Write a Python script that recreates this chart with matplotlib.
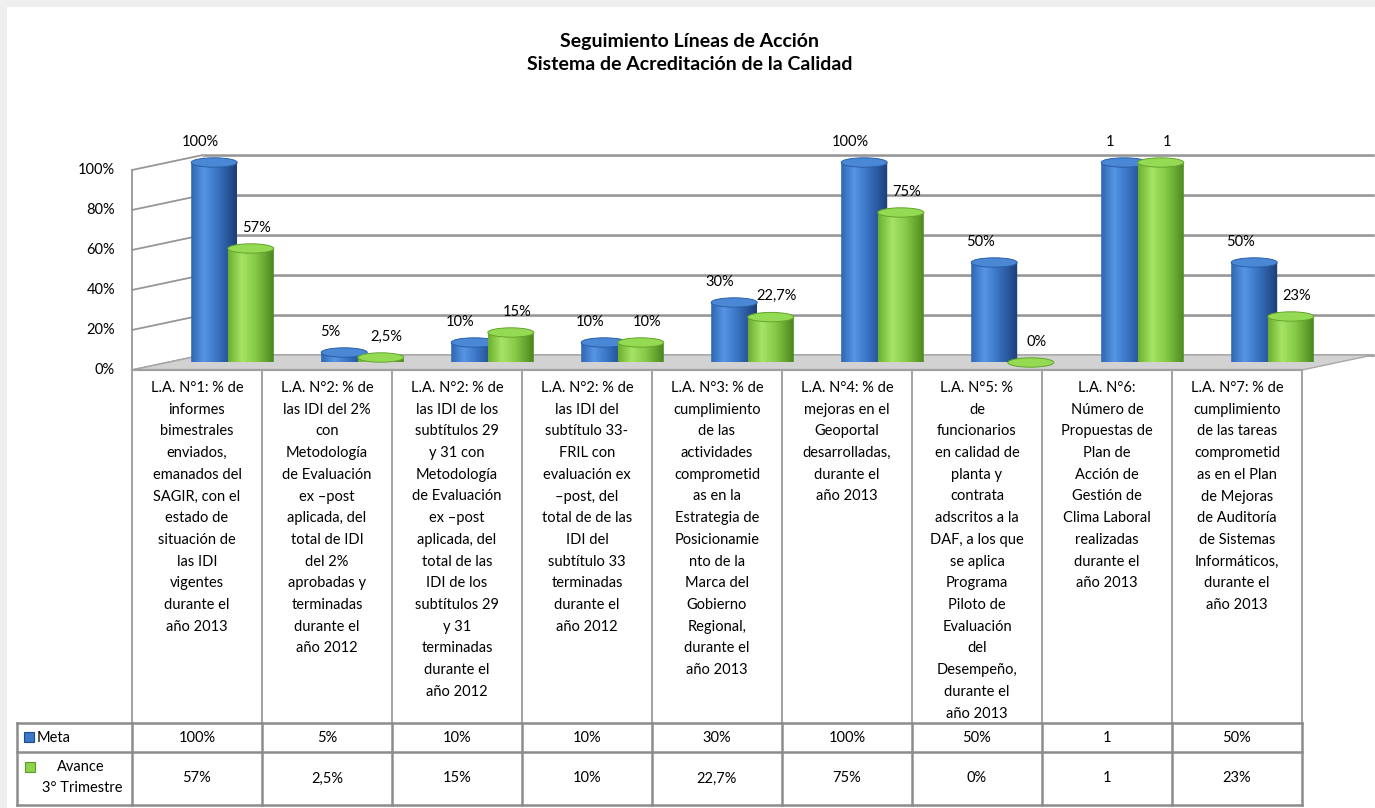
import numpy as np
import matplotlib
matplotlib.use("Agg")
import matplotlib.pyplot as plt
from matplotlib.patches import Rectangle, Ellipse, Polygon, PathPatch
from matplotlib.path import Path
from matplotlib.colors import to_rgb

# ---------------- data ----------------
categories = [
    "L.A. N°1: % de\ninformes\nbimestrales\nenviados,\nemanados del\nSAGIR, con el\nestado de\nsituación de\nlas IDI\nvigentes\ndurante el\naño 2013",
    "L.A. N°2: % de\nlas IDI del 2%\ncon\nMetodología\nde Evaluación\nex –post\naplicada, del\ntotal de IDI\ndel 2%\naprobadas y\nterminadas\ndurante el\naño 2012",
    "L.A. N°2: % de\nlas IDI de los\nsubtítulos 29\ny 31 con\nMetodología\nde Evaluación\nex –post\naplicada, del\ntotal de las\nIDI de los\nsubtítulos 29\ny 31\nterminadas\ndurante el\naño 2012",
    "L.A. N°2: % de\nlas IDI del\nsubtítulo 33-\nFRIL con\nevaluación ex\n–post, del\ntotal de de las\nIDI del\nsubtítulo 33\nterminadas\ndurante el\naño 2012",
    "L.A. N°3: % de\ncumplimiento\nde las\nactividades\ncomprometid\nas en la\nEstrategia de\nPosicionamie\nnto de la\nMarca del\nGobierno\nRegional,\ndurante el\naño 2013",
    "L.A. N°4: % de\nmejoras en el\nGeoportal\ndesarrolladas,\ndurante el\naño 2013",
    "L.A. N°5: %\nde\nfuncionarios\nen calidad de\nplanta y\ncontrata\nadscritos a la\nDAF, a los que\nse aplica\nPrograma\nPiloto de\nEvaluación\ndel\nDesempeño,\ndurante el\naño 2013",
    "L.A. N°6:\nNúmero de\nPropuestas de\nPlan de\nAcción de\nGestión de\nClima Laboral\nrealizadas\ndurante el\naño 2013",
    "L.A. N°7: % de\ncumplimiento\nde las tareas\ncomprometid\nas en el Plan\nde Mejoras\nde Auditoría\nde Sistemas\nInformáticos,\ndurante el\naño 2013",
]
meta = [1.00, 0.05, 0.10, 0.10, 0.30, 1.00, 0.50, 1.00, 0.50]
avance = [0.57, 0.025, 0.15, 0.10, 0.227, 0.75, 0.00, 1.00, 0.23]
meta_labels = ["100%", "5%", "10%", "10%", "30%", "100%", "50%", "1", "50%"]
avance_labels = ["57%", "2,5%", "15%", "10%", "22,7%", "75%", "0%", "1", "23%"]
series_names = ["Meta", "Avance", "3° Trimestre"]
yticks = [0.0, 0.2, 0.4, 0.6, 0.8, 1.0]
ytick_labels = ["0%", "20%", "40%", "60%", "80%", "100%"]
title_lines = ["Seguimiento Líneas de Acción", "Sistema de Acreditación de la Calidad"]

# ---------------- layout (pixels) ----------------
W, H = 1375, 808
N = len(categories)
TABLE_X0, COL_W = 132, 130
LEG_X0 = 17
FRONT_Y0 = 370          # value 0 on the front plane
VAL_H = 200             # pixels for value 1.0
DEPTH_DX, DEPTH_DY = 35.5, 7.5
TABLE_TOP, ROW1, ROW2, TABLE_BOT = 372, 723, 752, 805
LINE_PITCH = 21.7

FONT = ["Lato", "DejaVu Sans"]
plt.rcParams["font.family"] = FONT

fig = plt.figure(figsize=(W / 100, H / 100), dpi=100)
fig.patch.set_facecolor("#efefef")

bg = fig.add_axes([0, 0, 1, 1], zorder=0)
bg.set_xlim(0, W)
bg.set_ylim(H, 0)
bg.axis("off")
bg.add_patch(Rectangle((7, 7), W - 7, H - 7, facecolor="white", edgecolor="none"))

# title
bg.text(690, 41, title_lines[0], ha="center", va="center", fontsize=14, fontweight="bold")
bg.text(690, 64, title_lines[1], ha="center", va="center", fontsize=14, fontweight="bold")

# ---------------- table ----------------
tcol = "#8c8c8c"
x_end = TABLE_X0 + N * COL_W
for k in range(N + 1):
    x = TABLE_X0 + k * COL_W
    bg.plot([x, x], [TABLE_TOP, ROW1], color="#9a9a9a", lw=1.3)
    bg.plot([x, x], [ROW1, TABLE_BOT], color=tcol, lw=1.8)
bg.plot([LEG_X0, LEG_X0], [ROW1, TABLE_BOT], color=tcol, lw=1.8)
for y in (ROW1, ROW2, TABLE_BOT):
    bg.plot([LEG_X0, x_end], [y, y], color=tcol, lw=1.8)

for i, cat in enumerate(categories):
    cx = TABLE_X0 + COL_W * (i + 0.5)
    for j, line in enumerate(cat.split("\n")):
        bg.text(cx, 388 + j * LINE_PITCH, line, ha="center", va="center", fontsize=10.5)
    bg.text(cx, (ROW1 + ROW2) / 2, meta_labels[i], ha="center", va="center", fontsize=10.5)
    bg.text(cx, (ROW2 + TABLE_BOT) / 2, avance_labels[i], ha="center", va="center", fontsize=10.5)

# legend keys
bg.add_patch(Rectangle((24, 732), 10, 10, facecolor="#3b78c8", edgecolor="#1f4a8a", lw=0.8))
bg.text(37, 737.5, series_names[0], ha="left", va="center", fontsize=10.5)
bg.add_patch(Rectangle((25, 762), 10, 10, facecolor="#8fd24c", edgecolor="#5e9a2a", lw=0.8))
bg.text(81, 767, series_names[1], ha="center", va="center", fontsize=10.5)
bg.text(82, 788, series_names[2], ha="center", va="center", fontsize=10.5)

# ---------------- 3D-like plot area ----------------
ax = fig.add_axes([(TABLE_X0 + DEPTH_DX) / W, (H - (FRONT_Y0 - DEPTH_DY)) / H,
                   N * COL_W / W, VAL_H / H], zorder=1)
ax.patch.set_visible(False)
ax.axis("off")
DX = DEPTH_DX / COL_W
DY = DEPTH_DY / VAL_H
xl, xr = -0.5, N - 0.5
grid_c = "#969696"

for v, lab in zip(yticks, ytick_labels):
    ax.plot([xl - DX, xl + DX], [v - DY, v + DY], color=grid_c, lw=1.3, clip_on=False, zorder=1)
    ax.plot([xl + DX, xr + DX], [v + DY - 0.005, v + DY - 0.005], color="#d8d8d8", lw=1.3, clip_on=False, zorder=1)
    ax.plot([xl + DX, xr + DX], [v + DY, v + DY], color=grid_c, lw=1.8, clip_on=False, zorder=1)
    ax.annotate(lab, (xl - DX, v - DY), xytext=(-17, 0), textcoords="offset pixels",
                ha="right", va="center", fontsize=10.5, annotation_clip=False)
ax.plot([xl - DX, xl - DX], [-DY, 1 - DY], color=grid_c, lw=1.3, clip_on=False, zorder=1)
ax.plot([xl + DX, xl + DX], [DY, 1 + DY], color="#c8c8c8", lw=1.0, clip_on=False, zorder=1)

floor = Polygon([(xl - DX, -DY), (xr - DX, -DY), (xr + DX, DY), (xl + DX, DY)],
                closed=True, facecolor="#d2d2d2", edgecolor="#a8a8a8", lw=1.0,
                clip_on=False, zorder=2)
ax.add_patch(floor)
ax.plot([xl - DX, xr - DX], [-DY, -DY], color="#a0a0a0", lw=1.6, clip_on=False, zorder=2.1)


def gradient(stops):
    pos = np.array([s[0] for s in stops])
    cols = np.array([to_rgb(s[1]) for s in stops])
    xs = np.linspace(0, 1, 80)
    arr = np.stack([np.interp(xs, pos, cols[:, c]) for c in range(3)], axis=-1)
    return arr[np.newaxis, :, :]


blue_grad = gradient([(0, "#2f66b2"), (0.28, "#5696e4"), (0.55, "#3a76c6"), (1, "#1b3e78")])
green_grad = gradient([(0, "#6cb02e"), (0.3, "#a6e466"), (0.6, "#86c947"), (1, "#4a861d")])

BAR_W = 46 / COL_W
OFF = 18.3 / COL_W
E = 4.7 / VAL_H


def cylinder(cx, v, grad, cap_face, cap_edge, z):
    t = np.linspace(np.pi, 0, 40)
    xs = cx + BAR_W / 2 * np.cos(t)
    ys = -E * np.sin(t)
    verts = [(cx - BAR_W / 2, v)] + list(zip(xs, ys)) + [(cx + BAR_W / 2, v), (cx - BAR_W / 2, v)]
    codes = [Path.MOVETO] + [Path.LINETO] * (len(verts) - 2) + [Path.CLOSEPOLY]
    clip = PathPatch(Path(verts, codes), facecolor="none", edgecolor="none",
                     transform=ax.transData)
    ax.add_patch(clip)
    im = ax.imshow(grad, extent=[cx - BAR_W / 2, cx + BAR_W / 2, -E, max(v, 0.0005)],
                   aspect="auto", interpolation="bilinear", zorder=z)
    im.set_clip_path(clip)
    ax.add_patch(Ellipse((cx, v), BAR_W, 2 * E, facecolor=cap_face, edgecolor=cap_edge,
                         lw=0.7, zorder=z + 0.1, clip_on=False))


for i in range(N):
    cb = i - OFF
    cg = i + OFF
    cylinder(cb, meta[i], blue_grad, "#4a88d6", "#2a5ea6", 3 + i * 0.5)
    cylinder(cg, avance[i], green_grad, "#94da52", "#63a42c", 3.2 + i * 0.5)
    ax.annotate(meta_labels[i], (cb, meta[i]), xytext=(-14, 21), textcoords="offset pixels",
                ha="center", va="center", fontsize=10.5, zorder=20, annotation_clip=False)
    ax.annotate(avance_labels[i], (cg, avance[i]), xytext=(6, 21), textcoords="offset pixels",
                ha="center", va="center", fontsize=10.5, zorder=20, annotation_clip=False)

ax.set_xlim(xl, xr)
ax.set_ylim(0, 1)

fig.savefig("out.png", dpi=100, facecolor=fig.get_facecolor())
